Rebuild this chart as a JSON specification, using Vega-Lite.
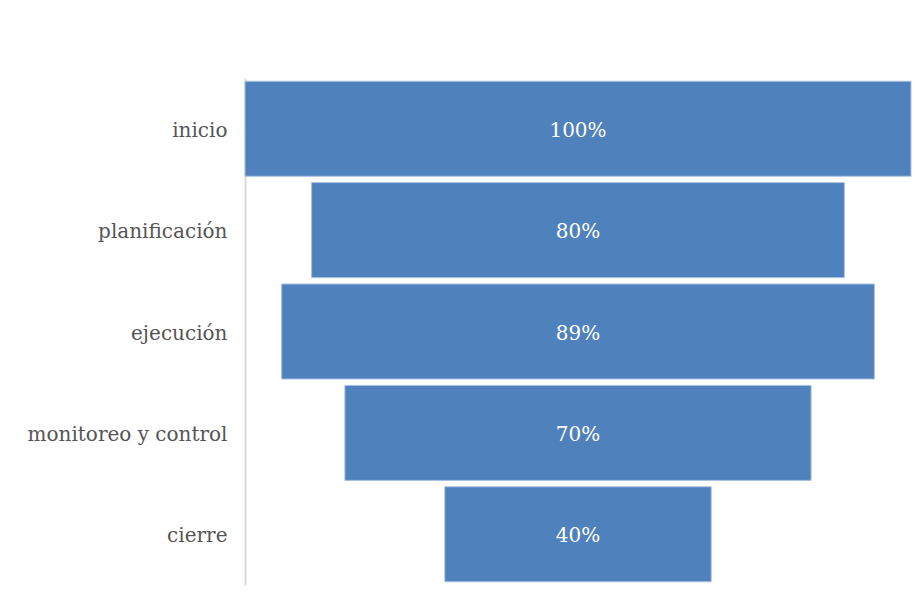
{
  "$schema": "https://vega.github.io/schema/vega-lite/v6.json",
  "width": 666,
  "height": 507,
  "autosize": {"type": "none"},
  "padding": {"left": 245, "top": 78, "right": 6, "bottom": 15},
  "background": "#ffffff",
  "config": {"view": {"stroke": null}},
  "data": {
    "values": [
      {"fase": "inicio", "valor": 100, "etiqueta": "100%"},
      {"fase": "planificación", "valor": 80, "etiqueta": "80%"},
      {"fase": "ejecución", "valor": 89, "etiqueta": "89%"},
      {"fase": "monitoreo y control", "valor": 70, "etiqueta": "70%"},
      {"fase": "cierre", "valor": 40, "etiqueta": "40%"}
    ]
  },
  "encoding": {
    "y": {
      "field": "fase",
      "type": "nominal",
      "sort": null,
      "scale": {"paddingInner": 0.063, "paddingOuter": 0.032},
      "axis": {
        "title": null,
        "ticks": false,
        "labelPadding": 18,
        "labelLimit": 300,
        "labelFont": "DejaVu Serif",
        "labelFontSize": 20,
        "labelOffset": 2,
        "labelColor": "#555555",
        "domainColor": "#d9d9d9",
        "domainWidth": 2
      }
    }
  },
  "layer": [
    {
      "mark": {"type": "bar", "color": "#4f81bd", "stroke": "#a9c1e0", "strokeWidth": 1},
      "encoding": {
        "x": {
          "field": "valor",
          "type": "quantitative",
          "stack": "center",
          "scale": {"domain": [0, 100], "nice": false},
          "axis": null
        }
      }
    },
    {
      "mark": {"type": "text", "color": "#ffffff", "font": "DejaVu Serif", "fontSize": 20, "align": "center", "baseline": "middle", "dy": 2},
      "encoding": {
        "x": {"datum": 50, "type": "quantitative"},
        "text": {"field": "etiqueta"}
      }
    }
  ]
}
